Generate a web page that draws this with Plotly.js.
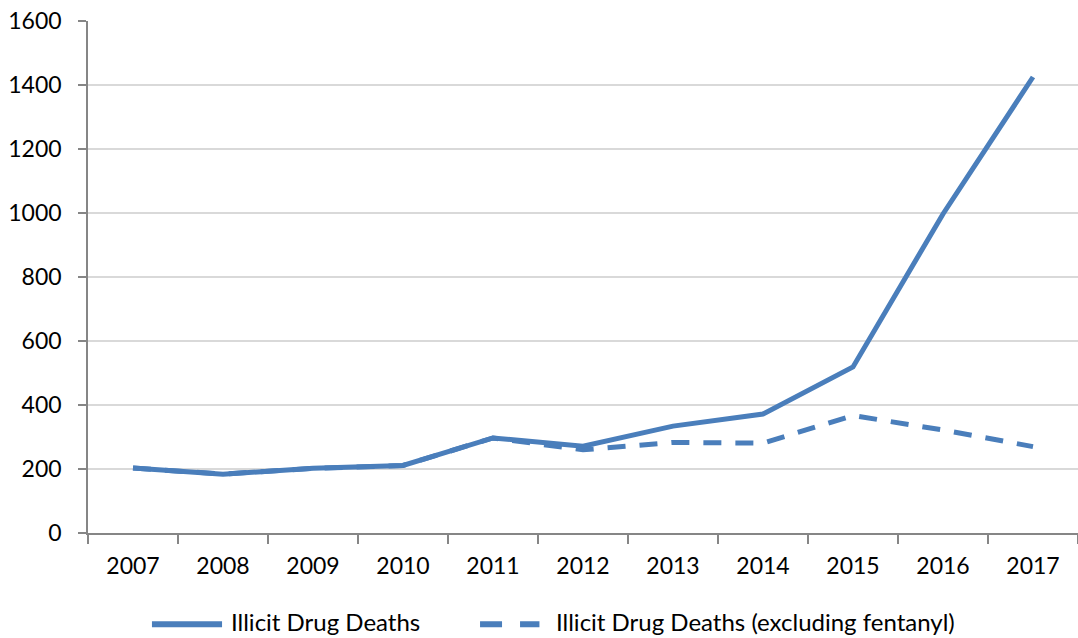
<!DOCTYPE html>
<html>
<head>
<meta charset="utf-8">
<script src="https://cdn.plot.ly/plotly-3.0.1.min.js"></script>
<style>html,body{margin:0;padding:0;background:#fff;}#chart{width:1078px;height:638px;}</style>
</head>
<body>
<div id="chart"></div>
<script>
const years = ['2007','2008','2009','2010','2011','2012','2013','2014','2015','2016','2017'];
const illicitDeaths = [203, 184, 202, 211, 297, 271, 334, 372, 519, 997, 1425];
const illicitExclFentanyl = [203, 184, 202, 211, 297, 260, 283, 281, 367, 322, 270];
const yTicks = [0, 200, 400, 600, 800, 1000, 1200, 1400, 1600];
const seriesNames = ['Illicit Drug Deaths', 'Illicit Drug Deaths (excluding fentanyl)'];

const color = '#4a7ebb';
const FONT = 'Lato, "Open Sans", sans-serif';
const traces = [
  {x: years, y: illicitExclFentanyl, name: seriesNames[1], mode: 'lines', showlegend: false,
   line: {color: color, width: 5, dash: '18px,14px'}},
  {x: years, y: illicitDeaths, name: seriesNames[0], mode: 'lines', showlegend: false,
   line: {color: color, width: 5}}
];
// custom legend (paper coordinates)
const ly = -0.178;
const shapes = [
  {type: 'line', xref: 'paper', yref: 'paper', x0: 0.0646, x1: 0.1354, y0: ly, y1: ly,
   line: {color: color, width: 6}},
  {type: 'line', xref: 'paper', yref: 'paper', x0: 0.396, x1: 0.456, y0: ly, y1: ly,
   line: {color: color, width: 6, dash: '22px,18px'}}
];
const annotations = [
  {xref: 'paper', yref: 'paper', x: 0.1424, y: ly, xanchor: 'left', yanchor: 'middle', yshift: 3, showarrow: false,
   text: seriesNames[0], font: {family: FONT, size: 24, color: '#000'}},
  {xref: 'paper', yref: 'paper', x: 0.4707, y: ly, xanchor: 'left', yanchor: 'middle', yshift: 3, showarrow: false,
   text: seriesNames[1], font: {family: FONT, size: 24, color: '#000'}}
];
const layout = {
  width: 1078, height: 638,
  margin: {l: 88, r: 0, t: 21, b: 105},
  paper_bgcolor: '#fff', plot_bgcolor: '#fff',
  font: {family: FONT, size: 23, color: '#000'},
  showlegend: false,
  shapes: shapes, annotations: annotations,
  xaxis: {type: 'category', range: [-0.5, 10.5], showgrid: false, zeroline: false,
          showline: true, linecolor: '#868686', linewidth: 1.5,
          ticks: 'outside', ticklen: 9, tickcolor: '#868686', tickwidth: 1.5,
          tickson: 'boundaries', ticklabelstandoff: 12, tickfont: {size: 23}},
  yaxis: {range: [0, 1600], tickvals: yTicks, showgrid: true, gridcolor: '#d9d9d9', gridwidth: 1.5,
          zeroline: false, showline: true, linecolor: '#868686', linewidth: 1.5,
          ticks: 'outside', ticklen: 8, tickcolor: '#868686', tickwidth: 1.5, ticklabelstandoff: 12,
          tickfont: {size: 23}}
};
Plotly.newPlot('chart', traces, layout, {displayModeBar: false});
</script>
</body>
</html>
